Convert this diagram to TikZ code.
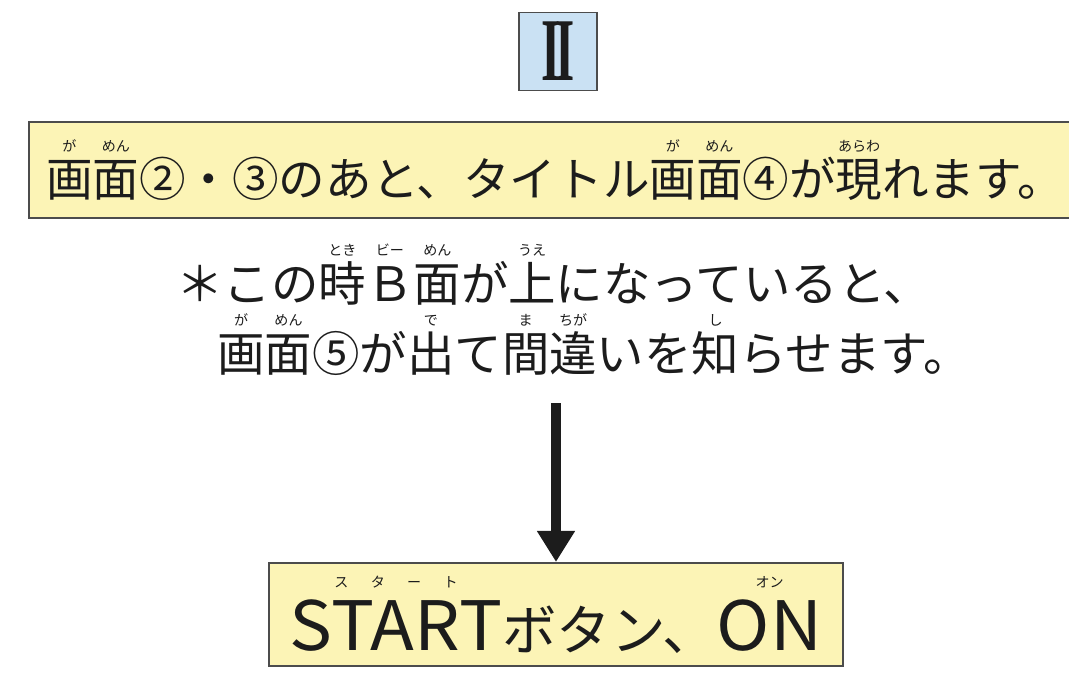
\documentclass[tikz,border=0pt]{standalone}
\usepackage{fontspec}
\setmainfont{Noto Sans CJK JP}
\newfontfamily\romanfont{Liberation Serif}
\usepackage{xcolor}
\definecolor{bannerfill}{RGB}{252,244,182}
\definecolor{numfill}{RGB}{202,225,243}
\definecolor{inkgray}{RGB}{28,28,28}
\usepackage{tikz}
\usetikzlibrary{arrows.meta, positioning}

% ruby (furigana) over a base text
\newlength\rubywd
\newcommand\rb[3][0.95em]{\settowidth\rubywd{#2}\makebox[0pt][l]{\raisebox{#1}{\makebox[\rubywd][c]{\fontsize{8}{8}\selectfont #3}}}#2}
% wide latin letters of the start label
\newcommand\wide[1]{\scalebox{1.32}[1.25]{#1}}

\begin{document}
\begin{tikzpicture}[
  numbox/.style={rectangle, draw=black!70, line width=1pt, fill=numfill,
               minimum width=1.56cm, minimum height=1.56cm, inner sep=0pt,
               font=\romanfont\bfseries\fontsize{51}{51}\selectfont, text=inkgray},
  banner/.style={rectangle, draw=black!70, line width=1.2pt, fill=bannerfill,
               minimum height=1.92cm, inner xsep=0.34cm, inner ysep=0pt,
               font=\fontsize{26.5}{30}\selectfont, text=inkgray},
  noteline/.style={inner sep=0pt, font=\fontsize{27}{30}\selectfont, text=inkgray},
  startbox/.style={rectangle, draw=black!70, line width=1.2pt, fill=bannerfill,
               minimum width=11.48cm, minimum height=2.06cm, inner sep=0pt,
               font=\fontsize{31}{36}\selectfont, text=inkgray},
  arr/.style={-{Triangle[width=0.72cm,length=0.62cm]}, line width=0.2cm, inkgray}
]
\useasboundingbox (0,0) rectangle (21.38,-13.44);
\clip (0,0) rectangle (21.38,-13.44);
\fill[white] (0,0) rectangle (21.38,-13.44);

\node[numbox] (num) at (11.16,-1.03) {\scalebox{0.55}[1]{I\kern-0.12em I}};
\node[banner, anchor=west] (msg) at (0.56,-3.40)
  {\rb{画}{が}\rb{面}{めん}②・③のあと、タイトル\rb{画}{が}\rb{面}{めん}④が\rb{現}{あらわ}れます。};

\node[noteline, anchor=base west] (line1) at (3.52,-6.02)
  {＊この\rb{時}{とき}\rb{Ｂ}{ビー}\rb{面}{めん}が\rb{上}{うえ}になっていると、};
\node[noteline, anchor=base west] (line2) at (4.34,-7.42)
  {\rb{画}{が}\rb{面}{めん}⑤が\rb{出}{で}て\rb{間}{ま}\rb{違}{ちが}いを\rb{知}{し}らせます。};

\node[startbox] (start) at (11.12,-12.29)
  {\rb[1.15em]{\wide{START}}{\hfil ス\hfil タ\hfil ー\hfil ト\hfil}ボタン、\rb[1.15em]{\wide{ON}}{オン}};

\draw[arr, shorten <=0.56cm] (start.north |- line2.south) -- (start.north);
\end{tikzpicture}
\end{document}
